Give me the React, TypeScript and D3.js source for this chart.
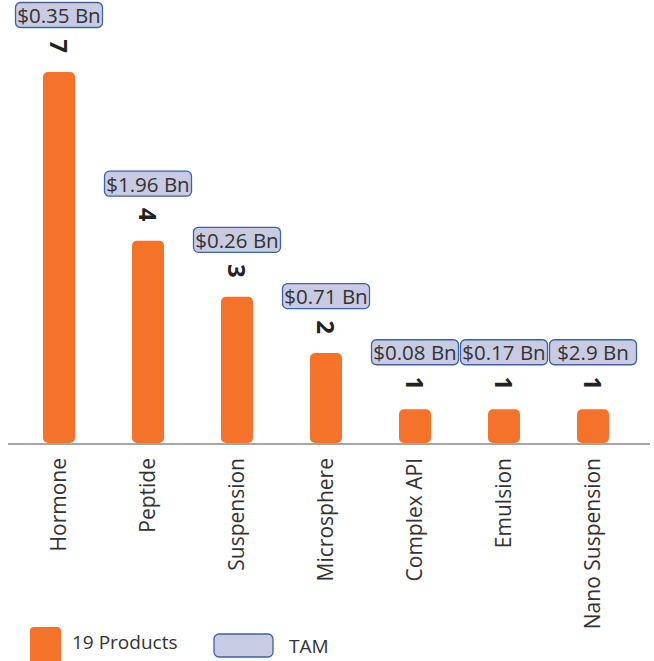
import React from "react";
import * as d3 from "d3";

const categories = ["Hormone", "Peptide", "Suspension", "Microsphere", "Complex API", "Emulsion", "Nano Suspension"];
const productCounts = [7, 4, 3, 2, 1, 1, 1];
const tamLabels = ["$0.35 Bn", "$1.96 Bn", "$0.26 Bn", "$0.71 Bn", "$0.08 Bn", "$0.17 Bn", "$2.9 Bn"];
const legendLabels = ["19 Products", "TAM"];

const W = 654;
const H = 661;
const ORANGE = "#f47229";
const BOX_FILL = "#c9cbe2";
const BOX_STROKE = "#3d62a6";
const FONT = "'Open Sans', 'Noto Sans', sans-serif";

export default function App() {
  const x = d3.scalePoint<string>().domain(categories).range([59, 593]);
  const y = d3.scaleLinear().domain([0.4, 7]).range([443, 72]);
  const barW = 32;
  const boxW = 87;
  const boxH = 25;

  return (
    <svg
      width={W}
      height={H}
      style={{ position: "absolute", left: 0, top: 0, background: "#fff" }}
      fontFamily={FONT}
    >
      {categories.map((c, i) => {
        const cx = x(c)!;
        const top = y(productCounts[i]);
        return (
          <g key={c}>
            <rect x={cx - barW / 2} y={top} width={barW} height={y(0.4) - top} rx={5} ry={5} fill={ORANGE} />
            <text
              transform={`translate(${cx},${top - 26}) rotate(90)`}
              textAnchor="middle"
              dominantBaseline="central"
              fontSize={24}
              fontWeight={700}
              fill="#222"
            >
              {productCounts[i]}
            </text>
            <rect
              x={cx - boxW / 2}
              y={top - 57 - boxH / 2}
              width={boxW}
              height={boxH}
              rx={5}
              ry={5}
              fill={BOX_FILL}
              stroke={BOX_STROKE}
              strokeWidth={1.3}
            />
            <text x={cx} y={top - 57} textAnchor="middle" dominantBaseline="central" fontSize={20.5} fill="#333">
              {tamLabels[i]}
            </text>
            <text
              transform={`translate(${cx + 7},458) rotate(-90)`}
              textAnchor="end"
              fontSize={21}
              fill="#333"
            >
              {c}
            </text>
          </g>
        );
      })}
      <line x1={8} x2={650} y1={444} y2={444} stroke="#888" strokeWidth={1.5} />
      <g>
        <rect x={30} y={627} width={31} height={40} rx={4} ry={4} fill={ORANGE} />
        <text x={72} y={649} fontSize={19} fill="#333">{legendLabels[0]}</text>
        <rect x={214} y={634} width={59} height={23} rx={5} ry={5} fill={BOX_FILL} stroke={BOX_STROKE} strokeWidth={1.3} />
        <text x={289} y={653} fontSize={19} fill="#333">{legendLabels[1]}</text>
      </g>
    </svg>
  );
}
